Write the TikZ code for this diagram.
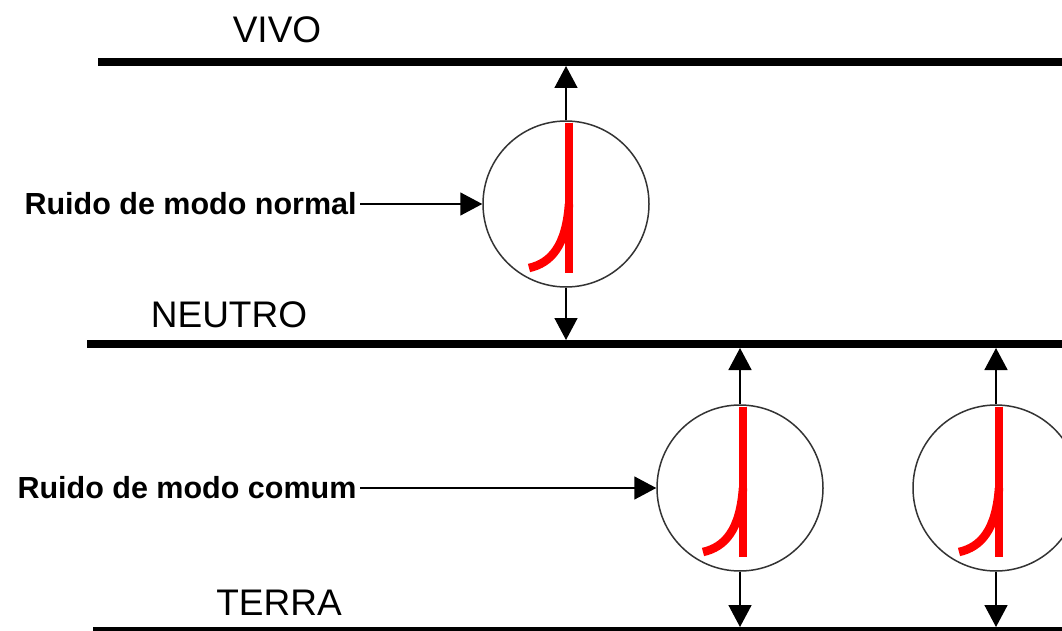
\documentclass[tikz,border=0pt]{standalone}
\usepackage{fontspec}
\setmainfont{Liberation Sans}
\usetikzlibrary{arrows.meta}

\begin{document}
\begin{tikzpicture}
    [
        x=1pt, y=-1pt,
        wire/.style = {
            line width=8pt
            },
        source/.style = {
            circle, draw=black!80, line width=1.5pt, minimum size=166pt, inner sep=0pt
            },
        noise/.style = {
            red, line width=8.5pt
            },
        link/.style = {
            -{Triangle[length=22pt, width=23pt]}, line width=1.6pt, shorten >=4pt
            },
        wirename/.style = {
            font=\fontsize{37}{40}\selectfont, anchor=base
            },
        tag/.style = {
            font=\bfseries\fontsize{30.5}{34}\selectfont, anchor=west
            },
    ]
    \useasboundingbox (0,0) rectangle (1062,631);
    \clip (0,0) rectangle (1062,631);
    %wires
    \coordinate (vivo) at (98,62);
    \coordinate (neutro) at (87,344);
    \coordinate (terra) at (93,631);
    \draw[wire] (vivo) -- (1062,62);
    \draw[wire] (neutro) -- (1062,344);
    \draw[wire] (terra) -- (1062,631);
    \node[wirename] (vivo name) at (277,43) {VIVO};
    \node[wirename] (neutro name) at (229,327) {NEUTRO};
    \node[wirename] (terra name) at (279,615) {TERRA};
    %sources
    \node[source] (src1) at (566,204) {};
    \node[source] (src2) at (740,488) {};
    \node[source] (src3) at (996,488) {};
    \foreach \s in {src1,src2,src3} {
        \draw[noise] ([shift={(3,-81)}]\s.center) -- ([shift={(3,69)}]\s.center);
        \draw[noise] ([shift={(3,0)}]\s.center) .. controls ([shift={(0,42)}]\s.center)
            and ([shift={(-15,59)}]\s.center) .. ([shift={(-37,64)}]\s.center);
    }
    %labels
    \node[tag] (normal) at (21,204) {Ruido de modo normal};
    \node[tag] (comum) at (14,488) {Ruido de modo comum};
    %connecting nodes
    \draw[link, shorten >=0pt] (normal.east) -- (src1.west);
    \draw[link, shorten >=0pt] (comum.east) -- (src2.west);
    \draw[link] (src1.north) -- (src1.north |- vivo);
    \draw[link] (src1.south) -- (src1.south |- neutro);
    \draw[link] (src2.north) -- (src2.north |- neutro);
    \draw[link] (src2.south) -- (src2.south |- terra);
    \draw[link] (src3.north) -- (src3.north |- neutro);
    \draw[link] (src3.south) -- (src3.south |- terra);
\end{tikzpicture}
\end{document}
